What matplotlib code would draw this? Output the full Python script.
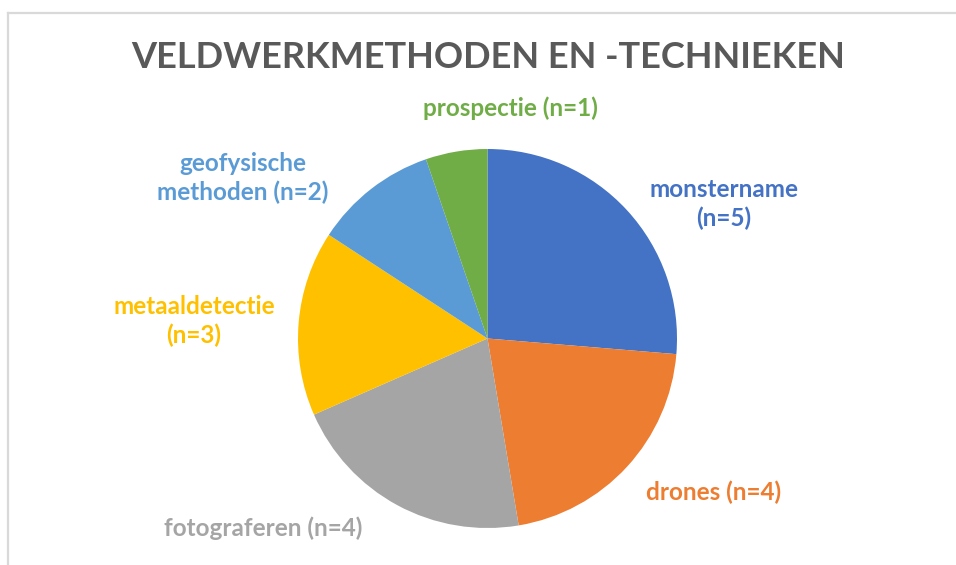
import matplotlib
matplotlib.use("Agg")
import matplotlib.pyplot as plt
from matplotlib.lines import Line2D

# Data (counts per fieldwork method)
categories = ["monstername", "drones", "fotograferen", "metaaldetectie",
              "geofysische methoden", "prospectie"]
counts = [5, 4, 4, 3, 2, 1]
label_texts = ["monstername\n(n=5)", "drones (n=4)", "fotograferen (n=4)",
               "metaaldetectie\n(n=3)", "geofysische\nmethoden (n=2)", "prospectie (n=1)"]
colors = ["#4472C4", "#ED7D31", "#A5A5A5", "#FFC000", "#5B9BD5", "#70AD47"]

# Layout (pixel coordinates from top-left, figure is 956x565)
W, H = 956, 565
PIE_CENTER = (487.5, 338.5)
PIE_RADIUS = 189.5
label_pos = [(724, 204), (714, 492), (263, 528), (194, 321), (243, 178), (510, 108)]

FONT = "Lato"

fig = plt.figure(figsize=(W / 100, H / 100), dpi=100)
ax = fig.add_axes([0, 0, 1, 1])


def flip(y):
    return H - y


ax.pie(counts, colors=colors, startangle=90, counterclock=False,
       center=(PIE_CENTER[0], flip(PIE_CENTER[1])), radius=PIE_RADIUS,
       wedgeprops=dict(linewidth=0), frame=True)
ax.set_xlim(0, W)
ax.set_ylim(0, H)
ax.set_aspect("equal")
ax.axis("off")

for txt, (px, py), col in zip(label_texts, label_pos, colors):
    ax.text(px, flip(py), txt, color=col, fontsize=17.5, fontweight="bold",
            family=FONT, ha="center", va="center", linespacing=1.32)

ax.text(488, flip(58), "VELDWERKMETHODEN EN -TECHNIEKEN", color="#595959",
        fontsize=26, fontweight="bold", family=FONT, ha="center", va="center")

# chart frame (only top and left edges visible in the crop)
fig.add_artist(Line2D([8 / W, 1], [1 - 13 / H, 1 - 13 / H], color="#D9D9D9", lw=1.6,
                      transform=fig.transFigure))
fig.add_artist(Line2D([8 / W, 8 / W], [0, 1 - 13 / H], color="#D9D9D9", lw=1.6,
                      transform=fig.transFigure))

fig.savefig("out.png", dpi=100)
